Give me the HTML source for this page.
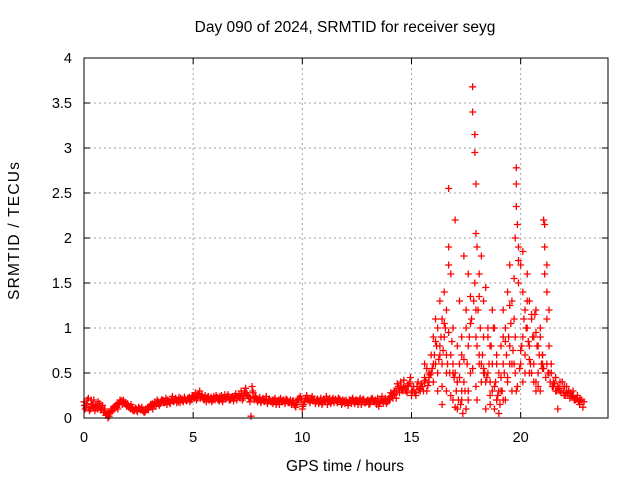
<!DOCTYPE html>
<html><head><meta charset="utf-8"><style>
body{margin:0;background:#fff;}
svg{display:block;font-family:"Liberation Sans",sans-serif;}
</style></head><body>
<svg id="chart" width="640" height="480">
<rect x="0" y="0" width="640" height="480" fill="#fff"/>
<text x="345" y="32" font-size="15.5" text-anchor="middle">Day 090 of 2024, SRMTID for receiver seyg</text>
<text x="19" y="231" font-size="15.5" text-anchor="middle" textLength="138" transform="rotate(-90 19 231)">SRMTID / TECUs</text>
<text x="345" y="471" font-size="15.5" text-anchor="middle">GPS time / hours</text>
<g id="grid"></g><g id="ticks"></g><g id="marks"></g>
<rect x="84" y="58" width="524" height="360" fill="none" stroke="#000" stroke-width="1"/>
</svg>
<script>
const xTicks=[0,5,10,15,20];
const yTicks=[0,0.5,1,1.5,2,2.5,3,3.5,4];
const yTickLabels=["0","0.5","1","1.5","2","2.5","3","3.5","4"];
const baseStart=0, baseStep=0.1;
const baseValues=[0.18,0.12,0.22,0.1,0.15,0.08,0.14,0.12,0.1,0.06,0.03,0.0,0.05,0.08,0.1,0.12,0.15,0.18,0.2,0.17,
0.16,0.12,0.1,0.08,0.1,0.12,0.09,0.08,0.07,0.1,0.12,0.14,0.15,0.13,0.18,0.16,0.2,0.17,0.15,0.19,
0.2,0.18,0.22,0.2,0.17,0.21,0.23,0.19,0.22,0.2,0.25,0.28,0.22,0.3,0.26,0.2,0.18,0.24,0.22,0.2,
0.2,0.23,0.19,0.25,0.22,0.21,0.26,0.2,0.24,0.22,0.2,0.26,0.3,0.22,0.33,0.25,0.18,0.35,0.2,0.22,
0.2,0.17,0.22,0.19,0.16,0.21,0.18,0.2,0.15,0.19,0.22,0.18,0.16,0.2,0.17,0.15,0.19,0.12,0.2,0.24,
0.1,0.18,0.25,0.2,0.22,0.19,0.16,0.21,0.18,0.15,0.2,0.24,0.18,0.16,0.22,0.2,0.17,0.21,0.15,0.18,
0.2,0.14,0.19,0.22,0.16,0.2,0.18,0.15,0.21,0.17,0.2,0.16,0.22,0.18,0.15,0.13,0.2,0.16,0.22,0.18,
0.2,0.25,0.3,0.22,0.35,0.4,0.3,0.35,0.28,0.38];
const baseValues2=[0.1,0.2,0.08,0.15,0.2,0.12,0.18,0.09,0.14,0.1,0.05,0.02,0.1,0.12,0.14,0.1,0.2,0.15,0.16,0.13,
0.12,0.15,0.08,0.11,0.07,0.1,0.12,0.06,0.1,0.09,0.15,0.1,0.18,0.2,0.14,0.2,0.17,0.22,0.18,0.16,
0.24,0.2,0.17,0.23,0.2,0.18,0.2,0.22,0.18,0.25,0.22,0.2,0.27,0.24,0.22,0.25,0.23,0.2,0.18,0.24,
0.25,0.2,0.22,0.18,0.26,0.24,0.2,0.23,0.19,0.27,0.24,0.22,0.2,0.3,0.26,0.22,0.02,0.28,0.24,0.18,
0.23,0.2,0.18,0.24,0.2,0.18,0.16,0.22,0.19,0.15,0.18,0.2,0.21,0.17,0.2,0.19,0.14,0.17,0.22,0.2,
0.15,0.22,0.2,0.17,0.24,0.21,0.2,0.16,0.22,0.2,0.18,0.15,0.22,0.2,0.17,0.19,0.22,0.18,0.2,0.16,
0.17,0.2,0.16,0.18,0.2,0.15,0.22,0.2,0.17,0.19,0.15,0.21,0.18,0.2,0.22,0.17,0.24,0.19,0.16,0.21,
0.28,0.22,0.3,0.38,0.28,0.32,0.42,0.3,0.36,0.45];
const baseValues3=[0.14,0.16,0.12,0.2,0.11,0.13,0.1,0.16,0.12,0.08,0.04,0.06,0.07,0.1,0.13,0.16,0.17,0.19,0.18,0.15,
0.14,0.1,0.12,0.09,0.08,0.11,0.1,0.09,0.1,0.12,0.13,0.16,0.14,0.17,0.16,0.18,0.19,0.18,0.2,0.17,
0.21,0.19,0.2,0.18,0.22,0.19,0.21,0.2,0.23,0.21,0.24,0.23,0.26,0.22,0.24,0.22,0.21,0.2,0.23,0.21,
0.22,0.21,0.24,0.2,0.23,0.22,0.24,0.21,0.22,0.25,0.23,0.24,0.27,0.25,0.28,0.24,0.22,0.3,0.23,0.2,
0.21,0.19,0.2,0.21,0.18,0.19,0.2,0.18,0.17,0.2,0.19,0.2,0.18,0.19,0.18,0.17,0.16,0.15,0.21,0.22,
0.13,0.2,0.22,0.19,0.2,0.21,0.18,0.19,0.2,0.17,0.19,0.21,0.2,0.18,0.2,0.21,0.19,0.2,0.17,0.19,
0.18,0.17,0.2,0.2,0.18,0.19,0.2,0.17,0.19,0.18,0.18,0.19,0.2,0.19,0.18,0.17,0.19,0.18,0.2,0.2,
0.24,0.27,0.26,0.3,0.33,0.35,0.34,0.32,0.36,0.4];
const stormTimes=[15.0,15.1,15.2,15.3,15.4,15.5,15.6,15.7,15.8,15.9,15.6,15.7,15.8,15.9,16.0,16.0,16.1,16.1,16.2,16.2,16.3,16.3,16.4,16.4,16.5,16.5,16.6,16.6,16.7,16.7,16.7,16.8,16.8,16.9,16.9,17.0,17.0,17.1,17.1,17.2,17.2,17.3,17.3,17.4,17.4,17.5,17.5,17.6,17.6,17.7,17.7,17.8,17.8,17.9,17.9,17.95,17.95,17.95,17.95,17.95,18.0,18.0,18.1,18.1,18.2,18.2,18.3,18.3,18.4,18.4,18.5,18.5,18.6,18.6,18.7,18.7,18.8,18.8,18.9,18.9,19.0,19.0,19.1,19.1,19.2,19.2,19.3,19.3,19.4,19.4,19.5,19.5,19.6,19.6,19.7,19.7,19.75,19.75,19.8,19.8,19.8,19.85,19.9,19.9,20.0,20.0,20.1,20.1,20.2,20.2,20.3,20.3,20.4,20.4,20.5,20.5,20.6,20.6,20.7,20.7,20.8,20.8,20.9,20.9,21.0,21.0,21.05,21.1,21.1,21.2,21.2,21.3,21.3,21.4,21.4,21.5,21.5,21.6,21.6,21.7,21.8,21.9,22.0,22.1,22.2,22.3,22.4,22.5,22.6,22.7,22.8,22.9,21.7,21.9,22.1,22.3,22.5,22.7,16.4,16.6,16.9,17.1,17.3,17.6,18.1,18.3,18.6,18.9,19.2,19.5,20.1,20.4,20.7,21.0,21.2];
const stormValues=[0.3,0.35,0.25,0.4,0.3,0.35,0.45,0.3,0.4,0.5,0.6,0.55,0.5,0.7,0.9,0.4,1.1,0.6,1.0,0.3,1.3,0.8,0.6,1.1,0.9,1.4,0.5,1.2,2.55,1.9,1.7,0.7,1.6,0.2,1.0,0.5,2.2,0.1,0.8,0.6,1.3,0.2,0.9,1.8,0.4,0.1,1.2,0.8,1.6,0.5,1.05,3.68,3.4,3.15,2.95,2.6,2.05,1.2,0.35,0.9,1.9,0.2,1.6,0.7,1.8,0.4,1.3,0.9,1.45,0.1,1.0,0.5,0.8,0.15,0.3,0.6,1.0,0.35,0.7,0.2,0.3,0.5,0.8,0.3,1.2,0.6,1.0,0.2,1.4,0.4,1.7,0.8,0.3,1.3,1.1,0.6,2.0,0.9,2.78,2.6,2.35,2.15,1.9,1.5,1.7,0.6,1.4,0.9,1.2,0.7,1.6,1.0,0.8,1.3,0.5,1.1,0.9,0.6,1.2,0.4,0.8,0.5,0.9,0.3,0.6,0.55,2.2,1.9,2.15,1.7,1.4,1.2,0.8,0.6,0.5,0.4,0.35,0.3,0.45,0.35,0.3,0.4,0.25,0.35,0.3,0.25,0.3,0.2,0.25,0.15,0.2,0.18,0.1,0.4,0.3,0.28,0.22,0.2,0.15,0.7,0.5,0.4,0.3,0.2,0.6,0.5,0.4,0.2,0.9,0.6,0.4,0.5,0.3,0.7,1.1,0.9];
const clusterTimes=[15.0,15.05,15.15,15.25,15.35,15.45,15.55,15.65,15.75,15.85,15.95,16.05,16.15,16.25,16.35,16.45,16.55,16.65,16.75,16.85,16.95,17.05,17.15,17.25,17.35,17.45,17.55,17.65,17.75,17.85,18.05,18.15,18.25,18.35,18.45,18.55,18.65,18.75,18.85,18.95,19.05,19.15,19.25,19.35,19.45,19.55,19.65,19.75,19.85,19.95,20.05,20.15,20.25,20.35,20.45,20.55,20.65,20.75,20.85,20.95,21.05,21.15,21.25,21.35,21.45,21.55,21.65,21.75,21.85,21.95,22.05,22.15,22.25,22.35,22.45,22.55,22.65,22.75,22.85,
15.2,15.4,15.6,15.8,16.0,16.2,16.4,16.6,16.8,17.0,17.2,17.4,17.6,17.8,18.0,18.2,18.4,18.6,18.8,19.0,19.2,19.4,19.6,19.8,20.0,20.2,20.4,20.6,20.8,21.0,21.2,21.4,21.6,21.8,22.0,22.2,22.4,22.6,
16.1,16.3,16.5,16.7,16.9,17.1,17.3,17.5,17.7,17.9,18.1,18.3,18.5,18.7,18.9,19.1,19.3,19.5,19.7,19.9,20.1,20.3,20.5,20.7,20.9,21.1,21.3];
const clusterValues=[0.25,0.3,0.28,0.35,0.32,0.38,0.3,0.42,0.36,0.48,0.55,0.7,0.8,0.65,0.9,0.75,1.0,0.6,0.5,0.85,0.45,0.3,0.2,0.15,0.05,0.3,0.6,0.9,1.1,1.3,1.2,1.0,0.7,0.5,0.45,0.6,0.8,1.0,0.4,0.25,0.15,0.3,0.5,0.7,0.9,1.05,0.75,0.5,0.35,0.55,0.8,1.1,1.0,0.85,0.6,0.9,1.15,0.8,0.7,0.6,0.55,0.45,0.5,0.4,0.35,0.38,0.3,0.33,0.28,0.3,0.25,0.27,0.22,0.24,0.2,0.22,0.18,0.2,0.12,
0.28,0.33,0.4,0.45,0.6,0.5,0.35,0.3,0.25,0.12,0.45,0.65,0.3,0.55,0.8,0.6,0.4,0.25,0.1,0.05,0.2,0.45,0.6,0.3,0.75,0.5,0.65,0.4,0.35,0.7,0.6,0.5,0.45,0.4,0.35,0.3,0.25,0.22,
0.85,0.7,1.05,0.95,0.6,0.4,0.7,1.0,1.35,1.5,1.35,0.55,0.9,1.2,0.6,0.45,0.85,1.25,1.55,1.75,1.85,1.3,1.15,0.95,1.0,1.6,0.5];
const NS="http://www.w3.org/2000/svg";
const L=84,R=608,T=58,B=418,XMAX=24,YMAX=4;
function xs(v){return L+v/XMAX*(R-L);}
function ys(v){return B-v/YMAX*(B-T);}
function mk(tag,attrs,parent){const e=document.createElementNS(NS,tag);for(const k in attrs)e.setAttribute(k,attrs[k]);parent.appendChild(e);return e;}
const grid=document.getElementById('grid'),ticks=document.getElementById('ticks'),marks=document.getElementById('marks');
xTicks.forEach(function(t,i){
  const x=xs(t);
  if(i>0){const g=mk('line',{x1:x,x2:x,y1:T,y2:B,stroke:'#a0a0a0','stroke-dasharray':'2,3'},grid);
  
  }
  mk('line',{x1:x,x2:x,y1:B,y2:B-6,stroke:'#000'},ticks);
  mk('line',{x1:x,x2:x,y1:T,y2:T+6,stroke:'#000'},ticks);
  const tx=mk('text',{x:x,y:B+24,'font-size':14.5,'text-anchor':'middle'},ticks);
  tx.textContent=String(t);
  
  
});
yTicks.forEach(function(t,i){
  const y=ys(t);
  if(i>0&&i<yTicks.length-1){const g=mk('line',{x1:L,x2:R,y1:y,y2:y,stroke:'#a0a0a0','stroke-dasharray':'2,3'},grid);
  
  }
  mk('line',{x1:L,x2:L+6,y1:y,y2:y,stroke:'#000'},ticks);
  mk('line',{x1:R,x2:R-6,y1:y,y2:y,stroke:'#000'},ticks);
  const tx=mk('text',{x:L-12,y:y+5,'font-size':14.5,'text-anchor':'end'},ticks);
  tx.textContent=yTickLabels[i];
  
  
});
function plus(t,v){
  const x=xs(t),y=ys(v);
  const p=mk('path',{d:'M'+(x-3.5)+' '+y+'h7M'+x+' '+(y-3.5)+'v7',stroke:'#ff0000','stroke-width':1.3,fill:'none'},marks);
  
  
}
baseValues.forEach(function(v,i){plus(baseStart+i*baseStep,v);});
baseValues2.forEach(function(v,i){plus(baseStart+i*baseStep+0.05,v);});
baseValues3.forEach(function(v,i){plus(baseStart+i*baseStep+0.025,v);});
stormTimes.forEach(function(t,i){plus(t,stormValues[i]);});
clusterTimes.forEach(function(t,i){plus(t,clusterValues[i]);});
</script>
</body></html>
